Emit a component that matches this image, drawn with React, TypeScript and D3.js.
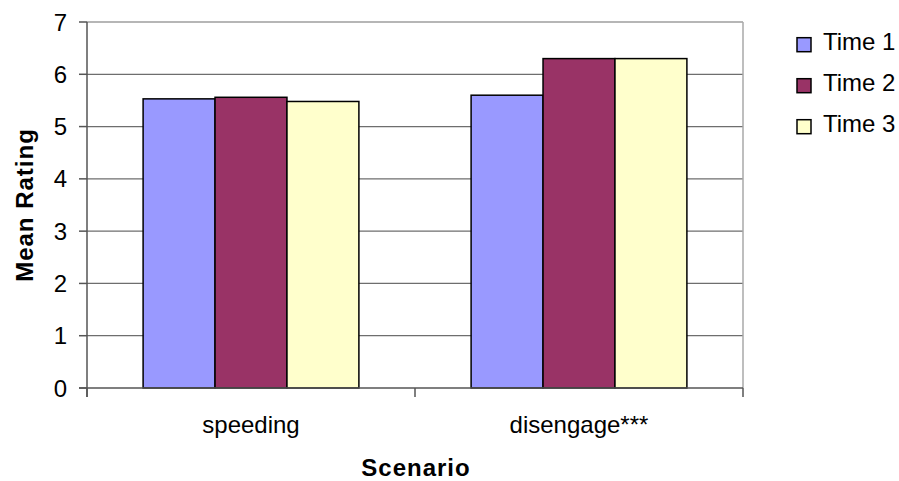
import React from "react";
import * as d3 from "d3";

const categories = ["speeding", "disengage***"];
const seriesNames = ["Time 1", "Time 2", "Time 3"];
const time1 = [5.53, 5.6];
const time2 = [5.56, 6.3];
const time3 = [5.48, 6.3];
const yTicks = [0, 1, 2, 3, 4, 5, 6, 7];
const colors = ["#9999FF", "#993366", "#FFFFCC"];

export default function App() {
  const W = 899, H = 481;
  const left = 87, right = 743, top = 22, bottom = 388;
  const font = "'Liberation Sans', Arial, sans-serif";
  const series = [time1, time2, time3];
  const x0 = d3.scaleBand().domain(categories).range([left, right]).paddingInner(0).paddingOuter(0);
  const x1 = d3.scaleBand().domain(seriesNames).range([0, x0.bandwidth()]).paddingInner(0).paddingOuter(0.78);
  const y = d3.scaleLinear().domain([0, 7]).range([bottom, top]);
  const boundaries = [left, ...categories.map((c) => (x0(c) as number) + x0.bandwidth())];
  return (
    <svg width={W} height={H} style={{ position: "absolute", left: 0, top: 0 }}>
      <rect x={0} y={0} width={W} height={H} fill="#fff" />
      {yTicks.slice(1).map((t) => (
        <line key={t} x1={left} x2={right} y1={y(t)} y2={y(t)} stroke="#6e6e6e" strokeWidth={1.2} />
      ))}
      <line x1={right} x2={right} y1={top} y2={bottom} stroke="#a8a8a8" strokeWidth={1.5} />
      {categories.map((c, ci) =>
        seriesNames.map((s, si) => {
          const v = series[si][ci];
          const bx = (x0(c) as number) + (x1(s) as number);
          return (
            <rect key={c + s} x={bx} y={y(v)} width={x1.bandwidth()} height={bottom - y(v)}
              fill={colors[si]} stroke="#000" strokeWidth={1.5} />
          );
        })
      )}
      <line x1={left} x2={left} y1={top} y2={bottom + 9} stroke="#555" strokeWidth={1.5} />
      <line x1={left - 8} x2={right} y1={bottom} y2={bottom} stroke="#555" strokeWidth={1.5} />
      {yTicks.map((t) => (
        <g key={t}>
          <line x1={left - 8} x2={left} y1={y(t)} y2={y(t)} stroke="#555" strokeWidth={1.5} />
          <text x={67} y={y(t)} dy="0.36em" textAnchor="end" fontFamily={font} fontSize={24} fill="#000">{t}</text>
        </g>
      ))}
      {boundaries.map((b, i) => (
        <line key={i} x1={b} x2={b} y1={bottom} y2={bottom + 9} stroke="#555" strokeWidth={1.5} />
      ))}
      {categories.map((c) => (
        <text key={c} x={(x0(c) as number) + x0.bandwidth() / 2} y={433} textAnchor="middle"
          fontFamily={font} fontSize={24} fill="#000">{c}</text>
      ))}
      <text x={(left + right) / 2 + 1} y={476} textAnchor="middle" fontFamily={font}
        fontSize={24} fontWeight="bold" letterSpacing={1} fill="#000">Scenario</text>
      <text transform={`translate(24,${(top + bottom) / 2}) rotate(-90)`} dy="0.36em" textAnchor="middle"
        fontFamily={font} fontSize={24} fontWeight="bold" letterSpacing={1} fill="#000">Mean Rating</text>
      {seriesNames.map((s, i) => (
        <g key={s} transform={`translate(797,${44.7 + i * 41})`}>
          <rect x={0} y={-7} width={14} height={14} fill={colors[i]} stroke="#000" strokeWidth={1.5} />
          <text x={26} y={5.5} fontFamily={font} fontSize={24} fill="#000">{s}</text>
        </g>
      ))}
    </svg>
  );
}
